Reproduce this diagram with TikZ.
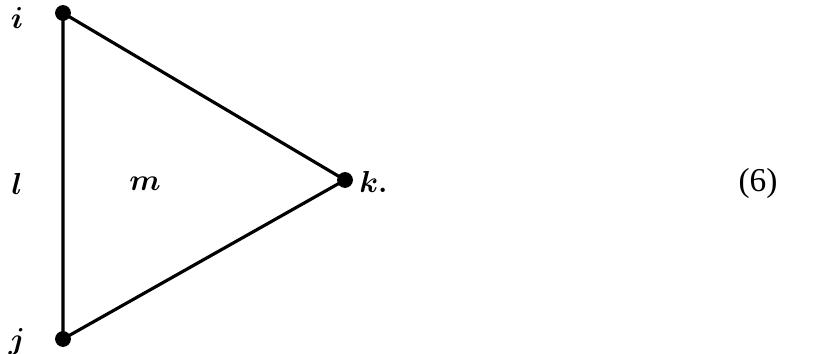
\documentclass[tikz,border=0pt]{standalone}
\usepackage{fontspec}
\usepackage{bm}
\newfontfamily\numfont{Liberation Serif}
\begin{document}
\begin{tikzpicture}[x=0.02cm,y=-0.02cm,
  vtx/.style={circle,fill=black,inner sep=0pt,minimum size=9pt},
  lbl/.style={font=\fontsize{17}{20}\selectfont,inner sep=0pt},
  edge/.style={line width=1.8pt}]
\useasboundingbox (0,0) rectangle (829,354);
\node[vtx] (i) at (63,13) {};
\node[vtx] (j) at (63,339) {};
\node[vtx] (k) at (345,180) {};
\draw[edge] (i.center) -- (j.center) -- (k.center) -- cycle;
\node[lbl] (li) at (17,18) {$\bm{i}$};
\node[lbl] (ll) at (17,184) {$\bm{l}$};
\node[lbl] (lj) at (17,342) {$\bm{j}$};
\node[lbl] (lm) at (145,184) {$\bm{m}$};
\node[lbl,anchor=west] (lk) at (359,182) {$\bm{k}$\textbf{.}};
\node[lbl,font=\numfont\fontsize{19}{22}\selectfont] (eq) at (758,183) {(6)};
\end{tikzpicture}
\end{document}
